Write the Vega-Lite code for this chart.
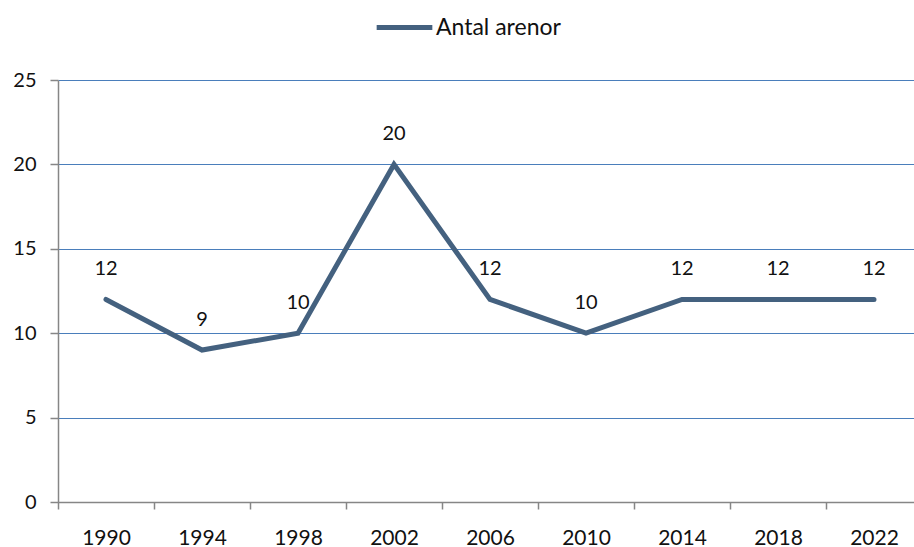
{
  "$schema": "https://vega.github.io/schema/vega-lite/v6.json",
  "autosize": {"type": "none"},
  "padding": {"left": 58, "top": 80, "right": 0, "bottom": 45},
  "width": 864,
  "height": 422,
  "background": "white",
  "config": {
    "view": {"stroke": null},
    "font": "Lato",
    "axis": {"labelFont": "Lato", "labelFontSize": 20, "labelColor": "#111111", "domainColor": "#868686", "tickColor": "#868686", "domainWidth": 1.5, "tickWidth": 1.5}
  },
  "data": {
    "values": [
      {"year": "1990", "value": 12, "series": "Antal arenor"},
      {"year": "1994", "value": 9, "series": "Antal arenor"},
      {"year": "1998", "value": 10, "series": "Antal arenor"},
      {"year": "2002", "value": 20, "series": "Antal arenor"},
      {"year": "2006", "value": 12, "series": "Antal arenor"},
      {"year": "2010", "value": 10, "series": "Antal arenor"},
      {"year": "2014", "value": 12, "series": "Antal arenor"},
      {"year": "2018", "value": 12, "series": "Antal arenor"},
      {"year": "2022", "value": 12, "series": "Antal arenor"}
    ]
  },
  "encoding": {
    "x": {
      "field": "year", "type": "ordinal", "bandPosition": 0.5,
      "scale": {"type": "band", "paddingInner": 0, "paddingOuter": 0},
      "axis": {"title": null, "labelAngle": 0, "tickBand": "extent", "tickSize": 7, "labelPadding": 18, "labelFontSize": 21, "grid": false}
    },
    "y": {
      "field": "value", "type": "quantitative",
      "scale": {"domain": [0, 25], "nice": false},
      "axis": {"title": null, "values": [0, 5, 10, 15, 20, 25], "tickSize": 8, "labelPadding": 14, "grid": true, "gridColor": "#4a7ebb", "gridWidth": 1.2}
    }
  },
  "layer": [
    {
      "mark": {"type": "line", "strokeWidth": 5, "strokeCap": "round", "strokeJoin": "miter"},
      "encoding": {
        "color": {
          "field": "series", "type": "nominal",
          "scale": {"range": ["#44617f"]},
          "legend": {"title": null, "orient": "none", "legendX": 316, "legendY": -83, "symbolType": "stroke", "symbolSize": 3100, "symbolStrokeWidth": 5, "labelFontSize": 23, "labelFont": "Lato", "labelColor": "#111111", "labelOffset": 1}
        }
      }
    },
    {
      "mark": {"type": "text", "dy": -30, "fontSize": 20, "font": "Lato", "color": "#111111"},
      "encoding": {"text": {"field": "value", "type": "quantitative"}}
    }
  ]
}
